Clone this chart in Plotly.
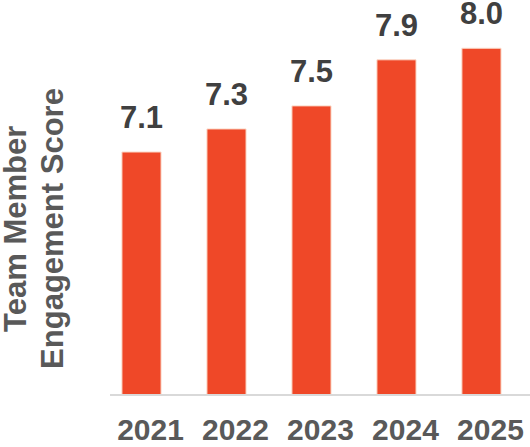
import plotly.graph_objects as go

years = ["2021", "2022", "2023", "2024", "2025"]
scores = [7.1, 7.3, 7.5, 7.9, 8.0]
score_labels = ["7.1", "7.3", "7.5", "7.9", "8.0"]
y_title_lines = ["Team Member", "Engagement Score"]

FONT = "Liberation Sans, Arial, sans-serif"
BAR = "#EF4828"

fig = go.Figure()
fig.add_trace(go.Bar(
    x=years, y=scores, base=0, width=0.46,
    marker=dict(color=BAR, line=dict(color="#FBD9C8", width=1)),
    hoverinfo="skip",
))

for i, (v, lab) in enumerate(zip(scores, score_labels)):
    fig.add_annotation(
        x=i, y=v, xref="x", yref="y", text="<b>%s</b>" % lab,
        showarrow=False, yanchor="bottom", yshift=15,
        font=dict(family=FONT, size=31, color="#404040"),
    )

# title lines, centre x in px from left edge
for line, cx in zip(y_title_lines, [16, 53]):
    fig.add_annotation(
        x=(cx - 110) / 420, y=0.419, xref="paper", yref="paper",
        text="<b>%s</b>" % line, borderpad=0,
        showarrow=False, textangle=-90, xanchor="center", yanchor="middle",
        font=dict(family=FONT, size=31, color="#595959"),
    )

fig.update_layout(
    width=530, height=447,
    margin=dict(l=110, r=0, t=0, b=53),
    paper_bgcolor="white", plot_bgcolor="white",
    showlegend=False,
    xaxis=dict(
        type="category", range=[-0.3706, 4.571],
        showline=True, linecolor="#D9D9D9", linewidth=2,
        showgrid=False, zeroline=False, ticks="",
        tickfont=dict(family=FONT, size=30, color="#595959"),
        tickprefix="<b>", ticksuffix="</b>",
        ticklabelstandoff=8, ticklabelshift=9,
    ),
    yaxis=dict(
        range=[5, 8.419], visible=False, showgrid=False, zeroline=False,
    ),
)

fig.write_html("out.html")
